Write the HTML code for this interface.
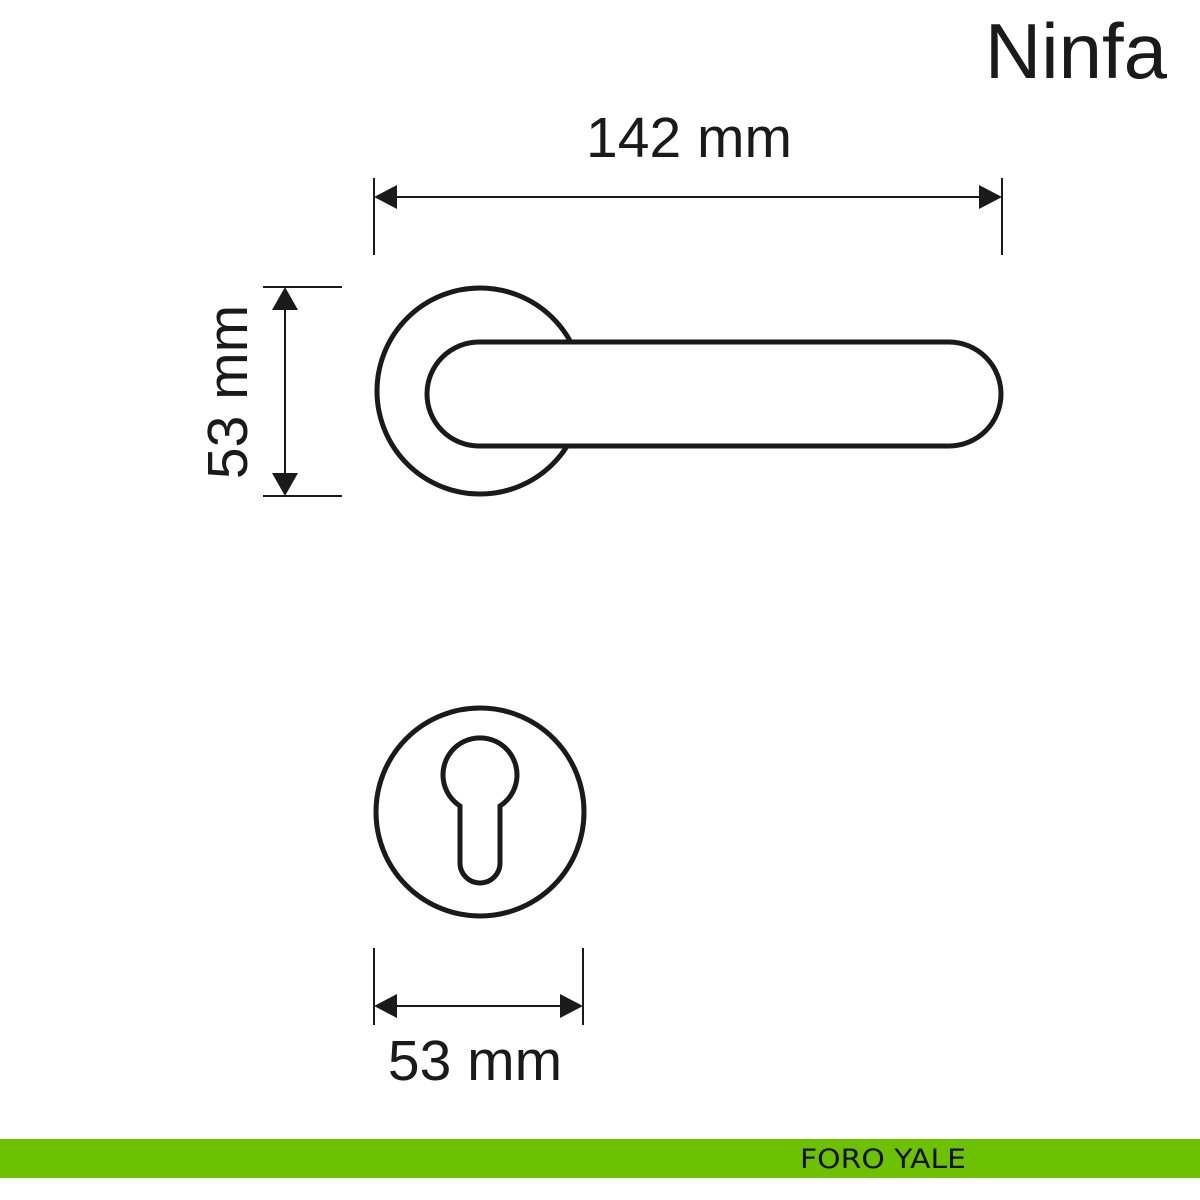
<!DOCTYPE html>
<html><head><meta charset="utf-8"><style>
html,body{margin:0;padding:0;background:#fff;}
svg{display:block;}
</style></head><body>
<svg width="1200" height="1200" viewBox="0 0 1200 1200" xmlns="http://www.w3.org/2000/svg">
<rect width="1200" height="1200" fill="#fff"/>
<g font-family="Liberation Sans, sans-serif" fill="#1a1a1a">
<text x="1167" y="78" font-size="78" text-anchor="end">Ninfa</text>
<text x="689" y="157" font-size="57" text-anchor="middle">142 mm</text>
<text x="475" y="1080" font-size="57" text-anchor="middle">53 mm</text>
<text transform="translate(247,392) rotate(-90)" font-size="57" text-anchor="middle">53 mm</text>
</g>
<g stroke="#1a1a1a" stroke-width="2" fill="none">
<line x1="374" y1="178" x2="374" y2="255"/>
<line x1="1002" y1="178" x2="1002" y2="255"/>
<line x1="390" y1="197" x2="986" y2="197"/>
<line x1="263" y1="287" x2="342" y2="287"/>
<line x1="263" y1="496" x2="342" y2="496"/>
<line x1="285" y1="300" x2="285" y2="483"/>
<line x1="374" y1="948" x2="374" y2="1025"/>
<line x1="583" y1="948" x2="583" y2="1025"/>
<line x1="390" y1="1006" x2="567" y2="1006"/>
</g>
<g fill="#1a1a1a">
<polygon points="374,197 397,185 397,209"/>
<polygon points="1002,197 979,185 979,209"/>
<polygon points="285,287 272,310 298,310"/>
<polygon points="285,496 272,473 298,473"/>
<polygon points="374,1006 397,994 397,1018"/>
<polygon points="583,1006 560,994 560,1018"/>
</g>
<g stroke="#1a1a1a" stroke-width="5" fill="#fff">
<circle cx="480" cy="391" r="103"/>
<rect x="427" y="342" width="574" height="104" rx="52" ry="52"/>
<circle cx="480" cy="812" r="104"/>
<path d="M460,806 A37,37 0 1 1 500,806 L500,863 A20,20 0 0 1 460,863 Z"/>
</g>
<rect x="0" y="1139" width="1200" height="39" fill="#6cc200"/>
<text x="800" y="1168" font-family="DejaVu Sans, sans-serif" font-size="27" fill="#111" textLength="166" lengthAdjust="spacingAndGlyphs">FORO YALE</text>
</svg>
</body></html>
